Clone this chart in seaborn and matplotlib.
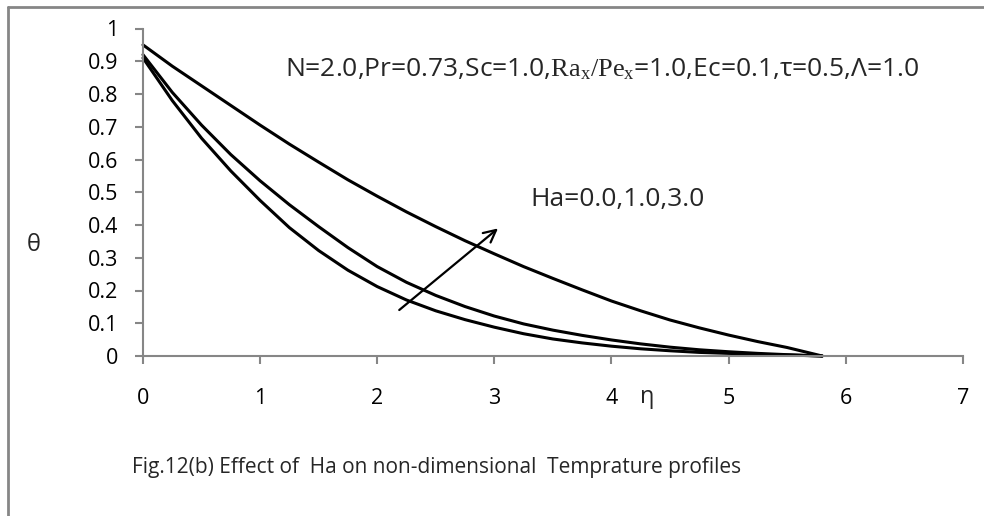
import matplotlib
matplotlib.use("Agg")
import matplotlib.pyplot as plt
import seaborn as sns
import pandas as pd
from matplotlib.lines import Line2D

# ---- data ----
eta = [0.0, 0.25, 0.5, 0.75, 1.0, 1.25, 1.5, 1.75, 2.0, 2.25, 2.5, 2.75, 3.0,
       3.25, 3.5, 3.75, 4.0, 4.25, 4.5, 4.75, 5.0, 5.25, 5.5, 5.8]
theta_ha0 = [0.91, 0.78, 0.665, 0.565, 0.475, 0.392, 0.322, 0.262, 0.212, 0.171, 0.138, 0.111,
             0.088, 0.068, 0.052, 0.040, 0.030, 0.022, 0.016, 0.011, 0.008, 0.005, 0.003, 0.0]
theta_ha1 = [0.92, 0.805, 0.705, 0.615, 0.535, 0.462, 0.395, 0.331, 0.273, 0.225, 0.185, 0.151,
             0.122, 0.098, 0.079, 0.063, 0.049, 0.037, 0.027, 0.019, 0.013, 0.008, 0.004, 0.0]
theta_ha3 = [0.95, 0.885, 0.825, 0.765, 0.705, 0.647, 0.592, 0.538, 0.488, 0.44, 0.395, 0.352,
             0.312, 0.273, 0.237, 0.202, 0.168, 0.138, 0.11, 0.086, 0.064, 0.044, 0.026, 0.0]
ha_labels = ["0.0", "1.0", "3.0"]
xticks = [0, 1, 2, 3, 4, 5, 6, 7]
yticks = [0, 0.1, 0.2, 0.3, 0.4, 0.5, 0.6, 0.7, 0.8, 0.9, 1]
ytick_labels = ["0", "0.1", "0.2", "0.3", "0.4", "0.5", "0.6", "0.7", "0.8", "0.9", "1"]

df = pd.concat([
    pd.DataFrame({"eta": eta, "theta": v, "Ha": h})
    for v, h in zip([theta_ha0, theta_ha1, theta_ha3], ha_labels)
])

sns.set_theme(style="white")
plt.rcParams["font.family"] = ["Open Sans", "DejaVu Sans"]
plt.rcParams["mathtext.fontset"] = "custom"
plt.rcParams["mathtext.rm"] = "Liberation Serif"
plt.rcParams["mathtext.it"] = "Liberation Serif:italic"

FS_TICK = 15.5
FS_CAP = 15
FS_ANN = 19
GRAY = "#868686"

fig = plt.figure(figsize=(9.84, 5.16), dpi=100)
ax = fig.add_axes([143 / 984, 1 - 356 / 516, (962.7 - 143) / 984, (356 - 28.5) / 516])

sns.lineplot(data=df, x="eta", y="theta", hue="Ha", palette=["black"] * 3,
             legend=False, linewidth=2.2, ax=ax, sort=False)

ax.set_xlim(0, 7)
ax.set_ylim(0, 1)
ax.set_xticks(xticks)
ax.set_xticklabels([str(t) for t in xticks])
ax.set_yticks(yticks)
ax.set_yticklabels(ytick_labels)
ax.set_xlabel("")
ax.set_ylabel("")

for s in ["top", "right"]:
    ax.spines[s].set_visible(False)
for s in ["left", "bottom"]:
    ax.spines[s].set_color(GRAY)
    ax.spines[s].set_linewidth(1.5)
ax.tick_params(axis="both", which="major", direction="out", length=6, width=1.5,
               color=GRAY, labelsize=FS_TICK, labelcolor="black")
ax.tick_params(axis="x", bottom=True, pad=17)
ax.tick_params(axis="y", left=True, pad=12)
for ln in ax.lines:
    ln.set_clip_on(False)

# annotations
ax.text(1.21, 0.875, r"N=2.0,Pr=0.73,Sc=1.0,$\mathrm{Ra}_{\mathrm{x}}/\mathrm{Pe}_{\mathrm{x}}$=1.0,Ec=0.1,τ=0.5,Λ=1.0",
        fontsize=FS_ANN, va="center", ha="left")
ax.text(3.31, 0.477, "Ha=0.0,1.0,3.0", fontsize=FS_ANN, va="center", ha="left")
ax.annotate("", xy=(3.05, 0.395), xytext=(2.17, 0.135),
            arrowprops=dict(arrowstyle="->", color="black", lw=1.6, mutation_scale=22))

fig.text(34 / 984, 1 - 245 / 516, "θ", fontsize=17, ha="center", va="center")
fig.text(647 / 984, 1 - 397 / 516, "η", fontsize=17, ha="center", va="center")
fig.text(437 / 984, 1 - 468 / 516,
         "Fig.12(b) Effect of  Ha on non-dimensional  Temprature profiles",
         fontsize=FS_CAP, ha="center", va="center")

# outer chart frame (left and top edges visible)
fig.add_artist(Line2D([8 / 984, 8 / 984], [0, 1 - 7 / 516], transform=fig.transFigure,
                      color=GRAY, lw=2))
fig.add_artist(Line2D([8 / 984, 1], [1 - 7 / 516, 1 - 7 / 516], transform=fig.transFigure,
                      color=GRAY, lw=2))

fig.savefig("out.png", dpi=100)
